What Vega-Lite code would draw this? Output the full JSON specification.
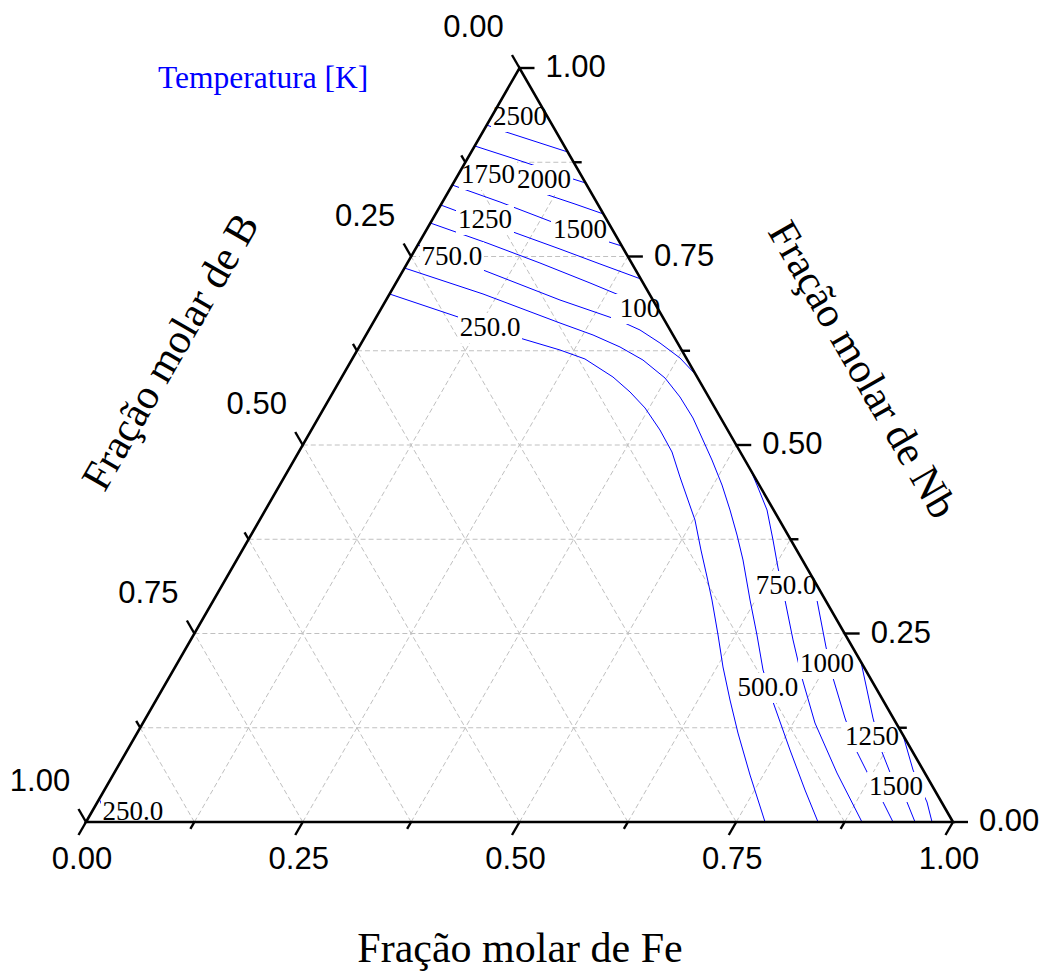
{
  "$schema": "https://vega.github.io/schema/vega-lite/v6.json",
  "width": 1048,
  "height": 972,
  "autosize": {"type": "none"},
  "padding": 0,
  "background": "white",
  "config": {"view": {"stroke": null}},
  "datasets": {
    "grid": [
      {"x": 0.0625, "y": 0.125, "x2": 0.9375, "y2": 0.125},
      {"x": 0.125, "y": 0.25, "x2": 0.875, "y2": 0.25},
      {"x": 0.1875, "y": 0.375, "x2": 0.8125, "y2": 0.375},
      {"x": 0.25, "y": 0.5, "x2": 0.75, "y2": 0.5},
      {"x": 0.3125, "y": 0.625, "x2": 0.6875, "y2": 0.625},
      {"x": 0.375, "y": 0.75, "x2": 0.625, "y2": 0.75},
      {"x": 0.4375, "y": 0.875, "x2": 0.5625, "y2": 0.875},
      {"x": 0.125, "y": 0, "x2": 0.5625, "y2": 0.875},
      {"x": 0.25, "y": 0, "x2": 0.625, "y2": 0.75},
      {"x": 0.375, "y": 0, "x2": 0.6875, "y2": 0.625},
      {"x": 0.5, "y": 0, "x2": 0.75, "y2": 0.5},
      {"x": 0.625, "y": 0, "x2": 0.8125, "y2": 0.375},
      {"x": 0.75, "y": 0, "x2": 0.875, "y2": 0.25},
      {"x": 0.875, "y": 0, "x2": 0.9375, "y2": 0.125},
      {"x": 0.875, "y": 0, "x2": 0.4375, "y2": 0.875},
      {"x": 0.75, "y": 0, "x2": 0.375, "y2": 0.75},
      {"x": 0.625, "y": 0, "x2": 0.3125, "y2": 0.625},
      {"x": 0.5, "y": 0, "x2": 0.25, "y2": 0.5},
      {"x": 0.375, "y": 0, "x2": 0.1875, "y2": 0.375},
      {"x": 0.25, "y": 0, "x2": 0.125, "y2": 0.25},
      {"x": 0.125, "y": 0, "x2": 0.0625, "y2": 0.125}
    ],
    "frame": [
      {"x": 0, "y": 0}, {"x": 1, "y": 0}, {"x": 0.5, "y": 1}
    ],
    "contours": [
      {"T": 2500, "p": "2500", "x": 0.467, "y": 0.9337},
      {"T": 2500, "p": "2500", "x": 0.533, "y": 0.9337},
      {"T": 2250, "p": "2250", "x": 0.4622, "y": 0.9244},
      {"T": 2250, "p": "2250", "x": 0.481, "y": 0.9164},
      {"T": 2250, "p": "2250", "x": 0.5557, "y": 0.8886},
      {"T": 2000, "p": "2000", "x": 0.4483, "y": 0.8966},
      {"T": 2000, "p": "2000", "x": 0.4913, "y": 0.8806},
      {"T": 2000, "p": "2000", "x": 0.5294, "y": 0.866},
      {"T": 2000, "p": "2000", "x": 0.5617, "y": 0.8528},
      {"T": 2000, "p": "2000", "x": 0.5763, "y": 0.8475},
      {"T": 1750, "p": "1750", "x": 0.4357, "y": 0.8714},
      {"T": 1750, "p": "1750", "x": 0.4948, "y": 0.8475},
      {"T": 1750, "p": "1750", "x": 0.5294, "y": 0.8329},
      {"T": 1750, "p": "1750", "x": 0.564, "y": 0.8196},
      {"T": 1750, "p": "1750", "x": 0.5968, "y": 0.8064},
      {"T": 1500, "p": "1500a", "x": 0.4224, "y": 0.8448},
      {"T": 1500, "p": "1500a", "x": 0.4775, "y": 0.8223},
      {"T": 1500, "p": "1500a", "x": 0.5375, "y": 0.7958},
      {"T": 1500, "p": "1500a", "x": 0.5813, "y": 0.7772},
      {"T": 1500, "p": "1500a", "x": 0.618, "y": 0.7639},
      {"T": 1250, "p": "1250a", "x": 0.4092, "y": 0.8183},
      {"T": 1250, "p": "1250a", "x": 0.4925, "y": 0.7825},
      {"T": 1250, "p": "1250a", "x": 0.5467, "y": 0.7599},
      {"T": 1250, "p": "1250a", "x": 0.5928, "y": 0.7401},
      {"T": 1250, "p": "1250a", "x": 0.6399, "y": 0.7202},
      {"T": 1000, "p": "1000a", "x": 0.3972, "y": 0.7944},
      {"T": 1000, "p": "1000a", "x": 0.4625, "y": 0.7679},
      {"T": 1000, "p": "1000a", "x": 0.5236, "y": 0.7414},
      {"T": 1000, "p": "1000a", "x": 0.5813, "y": 0.7149},
      {"T": 1000, "p": "1000a", "x": 0.6148, "y": 0.6989},
      {"T": 1000, "p": "1000a", "x": 0.6605, "y": 0.679},
      {"T": 750, "p": "750a", "x": 0.3826, "y": 0.7653},
      {"T": 750, "p": "750a", "x": 0.4579, "y": 0.7321},
      {"T": 750, "p": "750a", "x": 0.5467, "y": 0.6923},
      {"T": 750, "p": "750a", "x": 0.6136, "y": 0.6658},
      {"T": 750, "p": "750a", "x": 0.639, "y": 0.6525},
      {"T": 750, "p": "750a", "x": 0.662, "y": 0.6353},
      {"T": 750, "p": "750a", "x": 0.6851, "y": 0.6154},
      {"T": 750, "p": "750a", "x": 0.7036, "y": 0.5928},
      {"T": 500, "p": "500", "x": 0.3674, "y": 0.7347},
      {"T": 500, "p": "500", "x": 0.4579, "y": 0.7003},
      {"T": 500, "p": "500", "x": 0.5467, "y": 0.6618},
      {"T": 500, "p": "500", "x": 0.5848, "y": 0.6459},
      {"T": 500, "p": "500", "x": 0.6159, "y": 0.63},
      {"T": 500, "p": "500", "x": 0.6424, "y": 0.6127},
      {"T": 500, "p": "500", "x": 0.6678, "y": 0.5889},
      {"T": 500, "p": "500", "x": 0.6851, "y": 0.5637},
      {"T": 500, "p": "500", "x": 0.7001, "y": 0.5358},
      {"T": 500, "p": "500", "x": 0.7116, "y": 0.5066},
      {"T": 500, "p": "500", "x": 0.722, "y": 0.4801},
      {"T": 500, "p": "500", "x": 0.7336, "y": 0.4469},
      {"T": 500, "p": "500", "x": 0.7428, "y": 0.4138},
      {"T": 500, "p": "500", "x": 0.7509, "y": 0.3806},
      {"T": 500, "p": "500", "x": 0.7578, "y": 0.3475},
      {"T": 500, "p": "500", "x": 0.7659, "y": 0.2944},
      {"T": 500, "p": "500", "x": 0.7739, "y": 0.248},
      {"T": 500, "p": "500", "x": 0.7809, "y": 0.2016},
      {"T": 500, "p": "500", "x": 0.7924, "y": 0.1592},
      {"T": 500, "p": "500", "x": 0.812, "y": 0.0955},
      {"T": 500, "p": "500", "x": 0.8293, "y": 0.0424},
      {"T": 500, "p": "500", "x": 0.8443, "y": 0},
      {"T": 250, "p": "250a", "x": 0.3501, "y": 0.7003},
      {"T": 250, "p": "250a", "x": 0.4291, "y": 0.6698},
      {"T": 250, "p": "250a", "x": 0.504, "y": 0.6406},
      {"T": 250, "p": "250a", "x": 0.5467, "y": 0.626},
      {"T": 250, "p": "250a", "x": 0.5755, "y": 0.6141},
      {"T": 250, "p": "250a", "x": 0.6078, "y": 0.5902},
      {"T": 250, "p": "250a", "x": 0.6275, "y": 0.5703},
      {"T": 250, "p": "250a", "x": 0.6448, "y": 0.5491},
      {"T": 250, "p": "250a", "x": 0.662, "y": 0.5199},
      {"T": 250, "p": "250a", "x": 0.6759, "y": 0.4907},
      {"T": 250, "p": "250a", "x": 0.6851, "y": 0.4576},
      {"T": 250, "p": "250a", "x": 0.6943, "y": 0.4271},
      {"T": 250, "p": "250a", "x": 0.7024, "y": 0.4005},
      {"T": 250, "p": "250a", "x": 0.7093, "y": 0.3607},
      {"T": 250, "p": "250a", "x": 0.7163, "y": 0.3249},
      {"T": 250, "p": "250a", "x": 0.722, "y": 0.2944},
      {"T": 250, "p": "250a", "x": 0.729, "y": 0.248},
      {"T": 250, "p": "250a", "x": 0.7347, "y": 0.2056},
      {"T": 250, "p": "250a", "x": 0.7428, "y": 0.1618},
      {"T": 250, "p": "250a", "x": 0.752, "y": 0.118},
      {"T": 250, "p": "250a", "x": 0.7659, "y": 0.0623},
      {"T": 250, "p": "250a", "x": 0.7832, "y": 0},
      {"T": 250, "p": "250b", "x": 0.0153, "y": 0.0305},
      {"T": 250, "p": "250b", "x": 0.0208, "y": 0.0159},
      {"T": 250, "p": "250b", "x": 0.0288, "y": 0},
      {"T": 750, "p": "750b", "x": 0.7666, "y": 0.4668},
      {"T": 750, "p": "750b", "x": 0.7739, "y": 0.4469},
      {"T": 750, "p": "750b", "x": 0.7855, "y": 0.4138},
      {"T": 750, "p": "750b", "x": 0.7924, "y": 0.374},
      {"T": 750, "p": "750b", "x": 0.7982, "y": 0.3369},
      {"T": 750, "p": "750b", "x": 0.8062, "y": 0.2944},
      {"T": 750, "p": "750b", "x": 0.8155, "y": 0.2414},
      {"T": 750, "p": "750b", "x": 0.8258, "y": 0.191},
      {"T": 750, "p": "750b", "x": 0.8408, "y": 0.1313},
      {"T": 750, "p": "750b", "x": 0.8662, "y": 0.065},
      {"T": 750, "p": "750b", "x": 0.895, "y": 0},
      {"T": 1000, "p": "1000b", "x": 0.8369, "y": 0.3263},
      {"T": 1000, "p": "1000b", "x": 0.8431, "y": 0.2944},
      {"T": 1000, "p": "1000b", "x": 0.8535, "y": 0.2321},
      {"T": 1000, "p": "1000b", "x": 0.8616, "y": 0.191},
      {"T": 1000, "p": "1000b", "x": 0.8754, "y": 0.1379},
      {"T": 1000, "p": "1000b", "x": 0.8893, "y": 0.0928},
      {"T": 1000, "p": "1000b", "x": 0.9066, "y": 0.0531},
      {"T": 1000, "p": "1000b", "x": 0.9193, "y": 0.0265},
      {"T": 1000, "p": "1000b", "x": 0.9308, "y": 0},
      {"T": 1250, "p": "1250b", "x": 0.8939, "y": 0.2122},
      {"T": 1250, "p": "1250b", "x": 0.9008, "y": 0.1751},
      {"T": 1250, "p": "1250b", "x": 0.9077, "y": 0.1379},
      {"T": 1250, "p": "1250b", "x": 0.9181, "y": 0.0928},
      {"T": 1250, "p": "1250b", "x": 0.9308, "y": 0.0557},
      {"T": 1250, "p": "1250b", "x": 0.9469, "y": 0.0265},
      {"T": 1250, "p": "1250b", "x": 0.9562, "y": 0},
      {"T": 1500, "p": "1500b", "x": 0.9423, "y": 0.1154},
      {"T": 1500, "p": "1500b", "x": 0.9539, "y": 0.069},
      {"T": 1500, "p": "1500b", "x": 0.9619, "y": 0.0464},
      {"T": 1500, "p": "1500b", "x": 0.97, "y": 0.0265},
      {"T": 1500, "p": "1500b", "x": 0.9758, "y": 0}
    ],
    "clabels": [
      {"label": "2500", "x": 0.5006, "y": 0.935},
      {"label": "2000", "x": 0.5283, "y": 0.8515},
      {"label": "1750", "x": 0.4637, "y": 0.8581},
      {"label": "1500", "x": 0.5698, "y": 0.7851},
      {"label": "1250", "x": 0.4602, "y": 0.7984},
      {"label": "750.0", "x": 0.4221, "y": 0.7493},
      {"label": "100", "x": 0.639, "y": 0.6804},
      {"label": "250.0", "x": 0.466, "y": 0.6552},
      {"label": "750.0", "x": 0.8074, "y": 0.313},
      {"label": "1000", "x": 0.8547, "y": 0.2095},
      {"label": "500.0", "x": 0.7866, "y": 0.1777},
      {"label": "1250", "x": 0.9066, "y": 0.1127},
      {"label": "1500", "x": 0.9343, "y": 0.0464},
      {"label": "250.0", "x": 0.0542, "y": 0.0133}
    ],
    "ticks": [
      {"axis": "fe", "x": 0, "y": 0, "major": true, "label": "0.00"},
      {"axis": "fe", "x": 0.125, "y": 0, "major": false, "label": ""},
      {"axis": "fe", "x": 0.25, "y": 0, "major": true, "label": "0.25"},
      {"axis": "fe", "x": 0.375, "y": 0, "major": false, "label": ""},
      {"axis": "fe", "x": 0.5, "y": 0, "major": true, "label": "0.50"},
      {"axis": "fe", "x": 0.625, "y": 0, "major": false, "label": ""},
      {"axis": "fe", "x": 0.75, "y": 0, "major": true, "label": "0.75"},
      {"axis": "fe", "x": 0.875, "y": 0, "major": false, "label": ""},
      {"axis": "fe", "x": 1, "y": 0, "major": true, "label": "1.00"},
      {"axis": "b", "x": 0.5, "y": 1, "major": true, "label": "0.00"},
      {"axis": "b", "x": 0.4375, "y": 0.875, "major": false, "label": ""},
      {"axis": "b", "x": 0.375, "y": 0.75, "major": true, "label": "0.25"},
      {"axis": "b", "x": 0.3125, "y": 0.625, "major": false, "label": ""},
      {"axis": "b", "x": 0.25, "y": 0.5, "major": true, "label": "0.50"},
      {"axis": "b", "x": 0.1875, "y": 0.375, "major": false, "label": ""},
      {"axis": "b", "x": 0.125, "y": 0.25, "major": true, "label": "0.75"},
      {"axis": "b", "x": 0.0625, "y": 0.125, "major": false, "label": ""},
      {"axis": "b", "x": 0, "y": 0, "major": true, "label": "1.00"},
      {"axis": "nb", "x": 1, "y": 0, "major": true, "label": "0.00"},
      {"axis": "nb", "x": 0.9375, "y": 0.125, "major": false, "label": ""},
      {"axis": "nb", "x": 0.875, "y": 0.25, "major": true, "label": "0.25"},
      {"axis": "nb", "x": 0.8125, "y": 0.375, "major": false, "label": ""},
      {"axis": "nb", "x": 0.75, "y": 0.5, "major": true, "label": "0.50"},
      {"axis": "nb", "x": 0.6875, "y": 0.625, "major": false, "label": ""},
      {"axis": "nb", "x": 0.625, "y": 0.75, "major": true, "label": "0.75"},
      {"axis": "nb", "x": 0.5625, "y": 0.875, "major": false, "label": ""},
      {"axis": "nb", "x": 0.5, "y": 1, "major": true, "label": "1.00"}
    ],
    "titles": [
      {"k": "fe", "t": "Fração molar de Fe", "x": 0.5006, "y": -0.1857},
      {"k": "b", "t": "Fração molar de B", "x": 0.098, "y": 0.6233},
      {"k": "nb", "t": "Fração molar de Nb", "x": 0.895, "y": 0.5995},
      {"k": "temp", "t": "Temperatura [K]", "x": 0.083, "y": 0.9735}
    ]
  },
  "encoding": {
    "x": {"field": "x", "type": "quantitative", "scale": {"domain": [-0.099193, 1.109573], "nice": false, "zero": false}, "axis": null},
    "y": {"field": "y", "type": "quantitative", "scale": {"domain": [-0.198939, 1.090186], "nice": false, "zero": false}, "axis": null}
  },
  "layer": [
    {
      "data": {"name": "grid"},
      "mark": {"type": "rule", "stroke": "#c0c0c0", "strokeWidth": 1, "strokeDash": [5, 3]},
      "encoding": {"x2": {"field": "x2"}, "y2": {"field": "y2"}}
    },
    {
      "data": {"name": "contours"},
      "mark": {"type": "line", "stroke": "#0000ff", "strokeWidth": 1},
      "encoding": {"detail": {"field": "p"}, "order": {"value": null}}
    },
    {
      "data": {"name": "clabels"},
      "transform": [{"filter": "length(datum.label) < 5"}],
      "mark": {"type": "point", "shape": "M-1,-0.52H1V0.52H-1Z", "size": 3364, "filled": true, "fill": "white", "strokeWidth": 0, "opacity": 1}
    },
    {
      "data": {"name": "clabels"},
      "transform": [{"filter": "length(datum.label) >= 5"}],
      "mark": {"type": "point", "shape": "M-1,-0.47H1V0.47H-1Z", "size": 4096, "filled": true, "fill": "white", "strokeWidth": 0, "opacity": 1}
    },
    {
      "data": {"name": "clabels"},
      "mark": {"type": "text", "font": "Liberation Serif", "fontSize": 27, "align": "center", "baseline": "middle", "fill": "black"},
      "encoding": {"text": {"field": "label"}}
    },
    {
      "data": {"name": "frame"},
      "mark": {"type": "line", "stroke": "black", "strokeWidth": 2.6, "interpolate": "linear-closed", "strokeJoin": "miter"},
      "encoding": {"order": {"value": null}}
    },
    {
      "data": {"name": "ticks"},
      "transform": [{"filter": "datum.axis == 'fe' && datum.major"}],
      "mark": {"type": "point", "shape": "M0,0L2,0", "size": 225, "angle": 120, "filled": false, "stroke": "black", "strokeWidth": 2.4, "opacity": 1}
    },
    {
      "data": {"name": "ticks"},
      "transform": [{"filter": "datum.axis == 'fe' && !datum.major"}],
      "mark": {"type": "point", "shape": "M0,0L2,0", "size": 64, "angle": 120, "filled": false, "stroke": "black", "strokeWidth": 2.4, "opacity": 1}
    },
    {
      "data": {"name": "ticks"},
      "transform": [{"filter": "datum.axis == 'b' && datum.major"}],
      "mark": {"type": "point", "shape": "M0,0L2,0", "size": 225, "angle": 240, "filled": false, "stroke": "black", "strokeWidth": 2.4, "opacity": 1}
    },
    {
      "data": {"name": "ticks"},
      "transform": [{"filter": "datum.axis == 'b' && !datum.major"}],
      "mark": {"type": "point", "shape": "M0,0L2,0", "size": 64, "angle": 240, "filled": false, "stroke": "black", "strokeWidth": 2.4, "opacity": 1}
    },
    {
      "data": {"name": "ticks"},
      "transform": [{"filter": "datum.axis == 'nb' && datum.major"}],
      "mark": {"type": "point", "shape": "M0,0L2,0", "size": 225, "angle": 0, "filled": false, "stroke": "black", "strokeWidth": 2.4, "opacity": 1}
    },
    {
      "data": {"name": "ticks"},
      "transform": [{"filter": "datum.axis == 'nb' && !datum.major"}],
      "mark": {"type": "point", "shape": "M0,0L2,0", "size": 64, "angle": 0, "filled": false, "stroke": "black", "strokeWidth": 2.4, "opacity": 1}
    },
    {
      "data": {"name": "ticks"},
      "transform": [{"filter": "datum.axis == 'fe' && datum.major"}],
      "mark": {"type": "text", "font": "Liberation Sans", "fontSize": 31, "align": "center", "baseline": "middle", "dx": -4, "dy": 38, "fill": "black"},
      "encoding": {"text": {"field": "label"}}
    },
    {
      "data": {"name": "ticks"},
      "transform": [{"filter": "datum.axis == 'b' && datum.major"}],
      "mark": {"type": "text", "font": "Liberation Sans", "fontSize": 31, "align": "center", "baseline": "middle", "dx": -46, "dy": -40, "fill": "black"},
      "encoding": {"text": {"field": "label"}}
    },
    {
      "data": {"name": "ticks"},
      "transform": [{"filter": "datum.axis == 'nb' && datum.major"}],
      "mark": {"type": "text", "font": "Liberation Sans", "fontSize": 31, "align": "left", "baseline": "middle", "dx": 26, "dy": 0, "fill": "black"},
      "encoding": {"text": {"field": "label"}}
    },
    {
      "data": {"name": "titles"},
      "transform": [{"filter": "datum.k == 'fe'"}],
      "mark": {"type": "text", "font": "Liberation Serif", "fontSize": 42, "align": "center", "baseline": "alphabetic", "fill": "black"},
      "encoding": {"text": {"field": "t"}}
    },
    {
      "data": {"name": "titles"},
      "transform": [{"filter": "datum.k == 'b'"}],
      "mark": {"type": "text", "font": "Liberation Serif", "fontSize": 42, "align": "center", "baseline": "middle", "angle": 300, "fill": "black"},
      "encoding": {"text": {"field": "t"}}
    },
    {
      "data": {"name": "titles"},
      "transform": [{"filter": "datum.k == 'nb'"}],
      "mark": {"type": "text", "font": "Liberation Serif", "fontSize": 42, "align": "center", "baseline": "middle", "angle": 60, "fill": "black"},
      "encoding": {"text": {"field": "t"}}
    },
    {
      "data": {"name": "titles"},
      "transform": [{"filter": "datum.k == 'temp'"}],
      "mark": {"type": "text", "font": "Liberation Serif", "fontSize": 31.5, "align": "left", "baseline": "alphabetic", "fill": "#0000ff"},
      "encoding": {"text": {"field": "t"}}
    }
  ]
}
